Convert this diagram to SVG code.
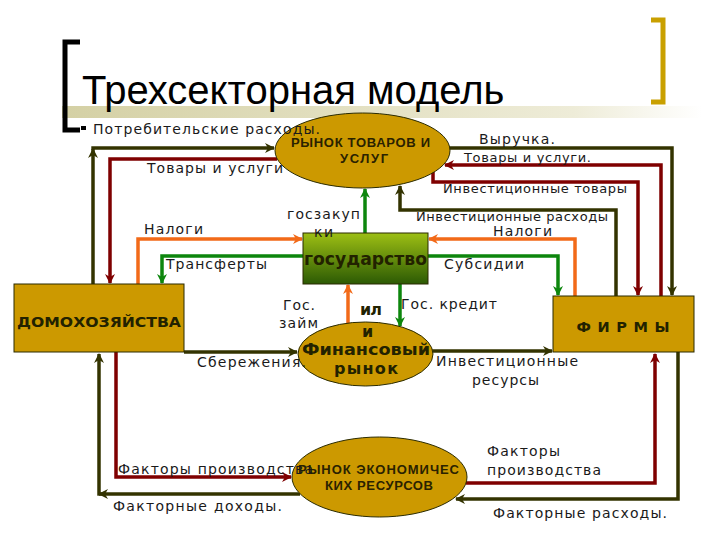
<svg xmlns="http://www.w3.org/2000/svg" width="720" height="540" viewBox="0 0 720 540">
<defs>
<linearGradient id="gov" x1="0" y1="0" x2="0" y2="1"><stop offset="0" stop-color="#9dbf14"/><stop offset="1" stop-color="#2c5a04"/></linearGradient>
<linearGradient id="band" x1="0" y1="0" x2="1" y2="0"><stop offset="0" stop-color="#d4d0a4"/><stop offset="0.8" stop-color="#eeecd8"/><stop offset="1" stop-color="#ffffff"/></linearGradient>
<marker id="mo" viewBox="0 0 10 10" refX="9" refY="5" markerWidth="10" markerHeight="10" markerUnits="userSpaceOnUse" orient="auto"><path d="M0,0 L10,5 L0,10 L3,5 Z" fill="#333300"/></marker>
<marker id="mr" viewBox="0 0 10 10" refX="9" refY="5" markerWidth="10" markerHeight="10" markerUnits="userSpaceOnUse" orient="auto"><path d="M0,0 L10,5 L0,10 L3,5 Z" fill="#7f0000"/></marker>
<marker id="mor" viewBox="0 0 10 10" refX="9" refY="5" markerWidth="10" markerHeight="10" markerUnits="userSpaceOnUse" orient="auto"><path d="M0,0 L10,5 L0,10 L3,5 Z" fill="#f26a18"/></marker>
<marker id="mg" viewBox="0 0 10 10" refX="9" refY="5" markerWidth="10" markerHeight="10" markerUnits="userSpaceOnUse" orient="auto"><path d="M0,0 L10,5 L0,10 L3,5 Z" fill="#0d860d"/></marker>
</defs>
<style>
.node{fill:#cc9900;stroke:#2b2b00;stroke-width:1}
.c{fill:none;stroke-width:3.5;stroke-linejoin:miter}
.o{stroke:#333300}
.r{stroke:#7f0000}
.or{stroke:#f26a18}
.g{stroke:#0d860d}
.lbl{font-family:"DejaVu Sans",sans-serif;font-size:14px;fill:#1a1a1a}
.sm{font-size:13px}
.nt{font-family:"Liberation Sans",Arial,sans-serif;font-weight:bold;fill:#2a2200;text-anchor:middle}
.nd{font-family:"DejaVu Sans",sans-serif;font-weight:bold;fill:#222200;text-anchor:middle}
</style>
<rect width="720" height="540" fill="#ffffff"/>
<g id="title">
<rect x="62" y="106" width="640" height="12" fill="url(#band)"/>
<path d="M80,42 H65 V130 H80" fill="none" stroke="#000" stroke-width="5"/>
<path d="M651,20 H663 V102 H651" fill="none" stroke="#c9a000" stroke-width="5"/>
<text x="82" y="104" font-family="Liberation Sans, Arial, sans-serif" font-size="40" fill="#000">Трехсекторная модель</text>
</g>
<g id="connectors">
<path class="c o" d="M93,284 V149" marker-end="url(#mo)"/>
<path class="c o" d="M91.3,148 H274" marker-end="url(#mo)"/>
<path class="c o" d="M449,148 H672 V295" marker-end="url(#mo)"/>
<path class="c o" d="M616,296 V210 H400 V186" marker-end="url(#mo)"/>
<path class="c o" d="M184,352 H297" marker-end="url(#mo)"/>
<path class="c o" d="M432,351 H552" marker-end="url(#mo)"/>
<path class="c o" d="M300,494 H99" marker-end="url(#mo)"/>
<path class="c o" d="M99,495.7 V354" marker-end="url(#mo)"/>
<path class="c o" d="M678,352 V499 H456" marker-end="url(#mo)"/>
<path class="c r" d="M277,159 H110 V283" marker-end="url(#mr)"/>
<path class="c r" d="M661,296 V165 H445" marker-end="url(#mr)"/>
<path class="c r" d="M433,172 V182 H638 V295" marker-end="url(#mr)"/>
<path class="c r" d="M116,352 V477 H291" marker-end="url(#mr)"/>
<path class="c r" d="M466,483 H655 V354" marker-end="url(#mr)"/>
<path class="c or" d="M138,284 V239 H302" marker-end="url(#mor)"/>
<path class="c or" d="M575,296 V239 H429" marker-end="url(#mor)"/>
<path class="c or" d="M348,324 V285" marker-end="url(#mor)"/>
<path class="c g" d="M303,256 H162 V283" marker-end="url(#mg)"/>
<path class="c g" d="M428,256 H558 V295" marker-end="url(#mg)"/>
<path class="c g" d="M365,233 V189" marker-end="url(#mg)"/>
<path class="c g" d="M400,284 V326" marker-end="url(#mg)"/>
</g>
<g id="goods-market">
<ellipse class="node" cx="362.5" cy="150.5" rx="87.5" ry="37.5"/>
<text class="nt" x="360.5" y="147" font-size="13" textLength="139">РЫНОК ТОВАРОВ И</text>
<text class="nt" x="364" y="163" font-size="13" textLength="48">УСЛУГ</text>
</g>
<g id="government">
<rect x="303" y="233" width="125" height="51" fill="url(#gov)" stroke="#2b2b00" stroke-width="1"/>
<text class="nd" x="365.5" y="265" font-size="18" textLength="123" lengthAdjust="spacingAndGlyphs" fill="#1f1f00">государство</text>
</g>
<g id="financial-market">
<ellipse class="node" cx="365.5" cy="354" rx="67.5" ry="32"/>
<text class="nd" x="371" y="315" font-size="16" textLength="22">ил</text>
<text class="nd" x="367.5" y="337" font-size="16">и</text>
<text class="nd" x="366" y="355" font-size="16" textLength="128" lengthAdjust="spacingAndGlyphs">Финансовый</text>
<text class="nd" x="366" y="374" font-size="16" textLength="64">рынок</text>
</g>
<g id="households">
<rect class="node" x="14" y="284" width="170" height="68"/>
<text class="nd" x="99" y="327" font-size="14.5" textLength="164" lengthAdjust="spacingAndGlyphs">ДОМОХОЗЯЙСТВА</text>
</g>
<g id="firms">
<rect class="node" x="553" y="296" width="141" height="56"/>
<text class="nd" x="623" y="332" font-size="14.5" textLength="93">Ф И Р М Ы</text>
</g>
<g id="resource-market">
<ellipse class="node" cx="379.5" cy="477" rx="87.5" ry="40"/>
<text class="nt" x="378.5" y="474" font-size="13" textLength="161">РЫНОК ЭКОНОМИЧЕС</text>
<text class="nt" x="379" y="490" font-size="13" textLength="108">КИХ РЕСУРСОВ</text>
</g>
<g id="labels">
<rect x="81" y="126" width="5" height="4" fill="#000"/>
<text class="lbl" x="93" y="134" textLength="227">Потребительские расходы.</text>
<text class="lbl" x="479" y="144" textLength="76">Выручка.</text>
<text class="lbl" x="147" y="173" textLength="136">Товары и услуги</text>
<text class="lbl sm" x="464" y="162" textLength="127">Товары и услуги.</text>
<text class="lbl sm" x="443" y="193" textLength="184">Инвестиционные товары</text>
<text class="lbl sm" x="416" y="221" textLength="192">Инвестиционные расходы</text>
<text class="lbl" x="287" y="219" textLength="73">госзакуп</text>
<text class="lbl" x="314" y="237" textLength="19">ки</text>
<text class="lbl" x="144" y="234" textLength="59">Налоги</text>
<text class="lbl" x="493" y="236" textLength="59">Налоги</text>
<text class="lbl" x="166" y="269" textLength="101">Трансферты</text>
<text class="lbl" x="444" y="269" textLength="80">Субсидии</text>
<text class="lbl" x="283" y="310" textLength="32">Гос.</text>
<text class="lbl" x="279" y="328" textLength="39">займ</text>
<text class="lbl" x="401" y="309" textLength="96">Гос. кредит</text>
<text class="lbl" x="197" y="367" textLength="109">Сбережения.</text>
<text class="lbl" x="436" y="366" textLength="142">Инвестиционные</text>
<text class="lbl" x="472" y="385" textLength="67">ресурсы</text>
<text class="lbl" x="118" y="474" textLength="195">Факторы производства</text>
<text class="lbl" x="113" y="511" textLength="169">Факторные доходы.</text>
<text class="lbl" x="487" y="456" textLength="73">Факторы</text>
<text class="lbl" x="487" y="475" textLength="114">производства</text>
<text class="lbl" x="493" y="518" textLength="174">Факторные расходы.</text>
</g>
</svg>
